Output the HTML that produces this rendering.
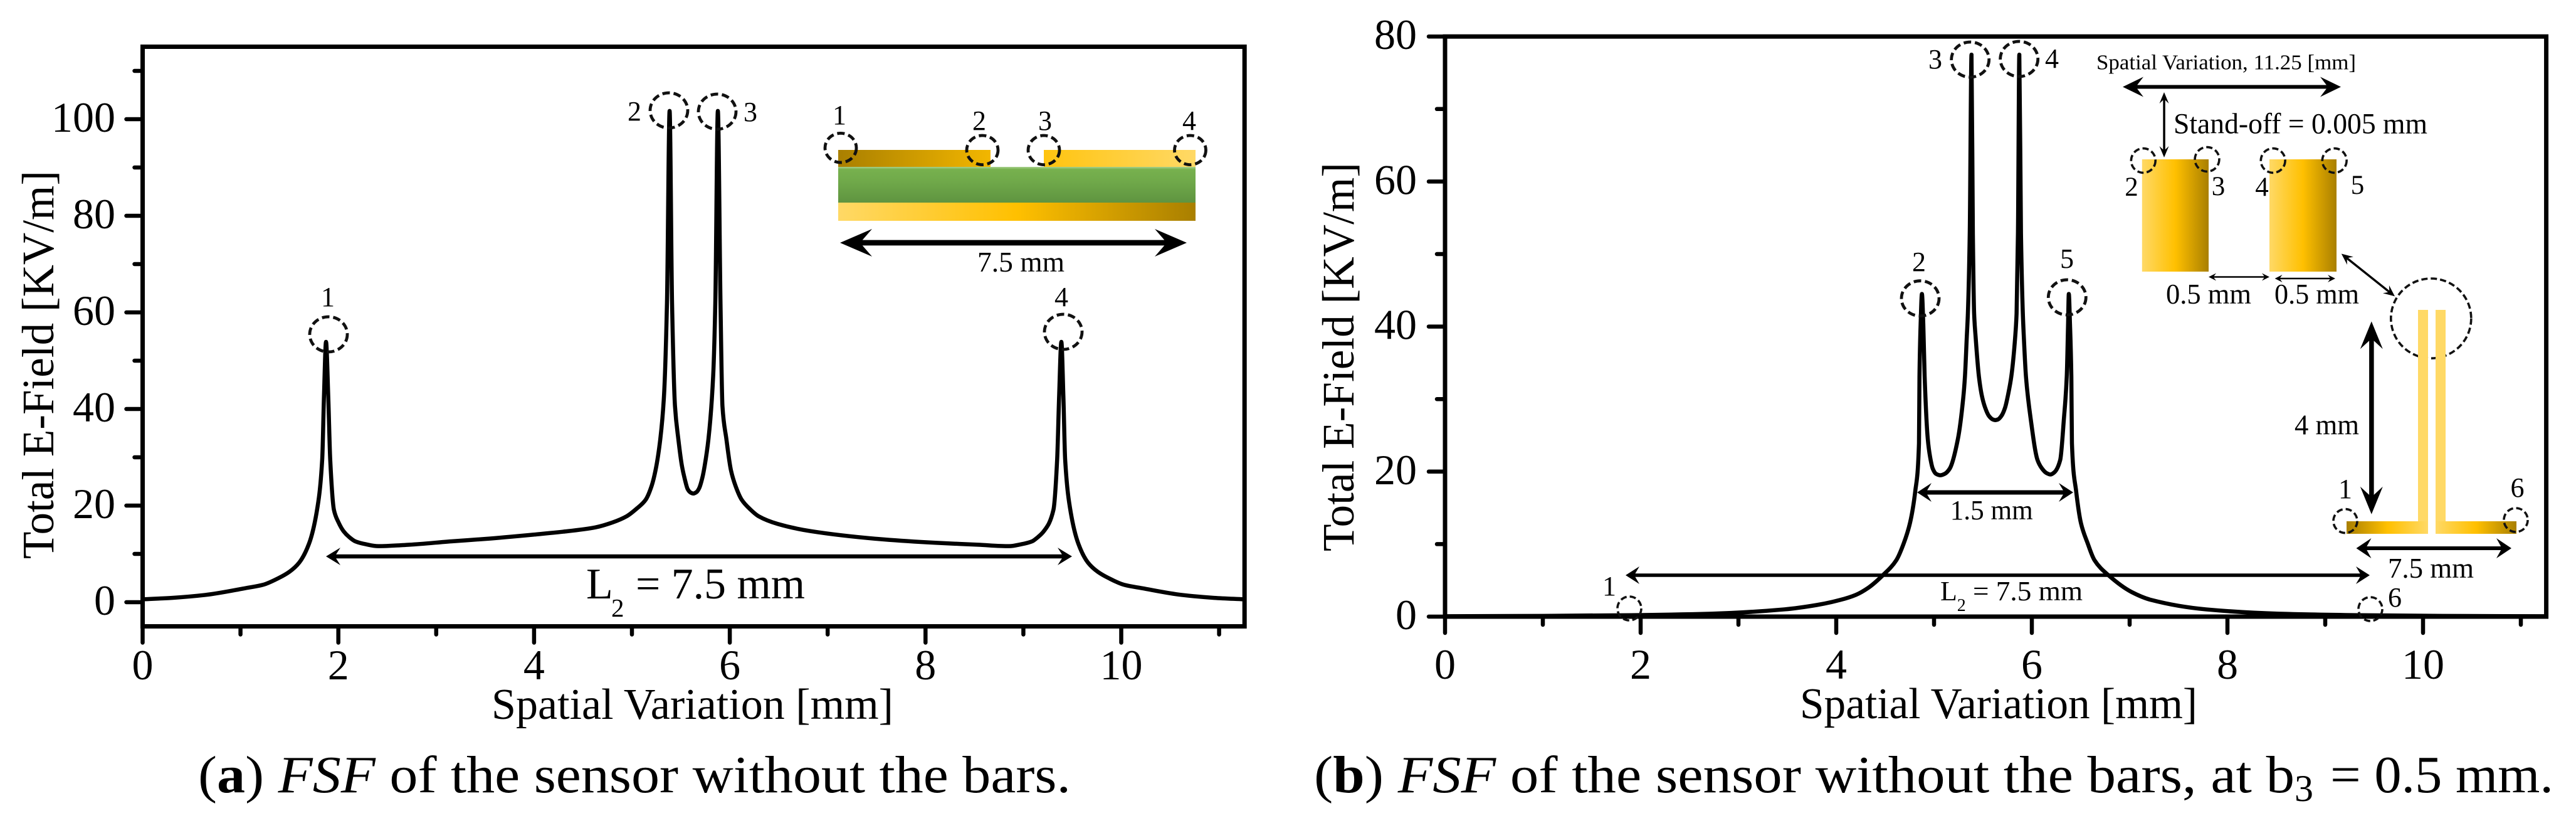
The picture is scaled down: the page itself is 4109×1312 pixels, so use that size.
<!DOCTYPE html>
<html lang="en">
<head>
<meta charset="utf-8">
<title>FSF of the sensor without the bars</title>
<style>
html,body{margin:0;padding:0;background:#fff;}
svg{display:block;}
text{font-family:"Liberation Serif",serif;fill:#000;}
.dash{fill:none;stroke:#111;stroke-width:4.8;stroke-dasharray:12 6;}
.dash-thin{fill:none;stroke:#111;stroke-width:3.6;stroke-dasharray:10 5;}
</style>
</head>
<body>
<svg id="figure" xmlns="http://www.w3.org/2000/svg" width="4109" height="1312" viewBox="0 0 4109 1312">
<defs>
<linearGradient id="goldLR"><stop offset="0" stop-color="#ffd966"/><stop offset="0.5" stop-color="#ffc000"/><stop offset="1" stop-color="#a97f00"/></linearGradient>
<linearGradient id="goldRL"><stop offset="0" stop-color="#a97f00"/><stop offset="0.5" stop-color="#ffc000"/><stop offset="1" stop-color="#ffd966"/></linearGradient>
<linearGradient id="goldTop" gradientUnits="userSpaceOnUse" x1="1337" y1="0" x2="1907" y2="0"><stop offset="0" stop-color="#a97f00"/><stop offset="0.5" stop-color="#ffc000"/><stop offset="1" stop-color="#ffd966"/></linearGradient>
<linearGradient id="green" x1="0" y1="0" x2="0" y2="1"><stop offset="0" stop-color="#a9d18e"/><stop offset="0.07" stop-color="#77b14e"/><stop offset="0.4" stop-color="#70a94a"/><stop offset="1" stop-color="#5f9440"/></linearGradient>
</defs>
<rect x="0" y="0" width="4109" height="1312" fill="#fff"/>

<g id="chart-a"></g>
<g id="chart-b"></g>

<!-- Panel (a) titles and annotations -->
<text x="784" y="1146" font-size="70" textLength="641" lengthAdjust="spacingAndGlyphs">Spatial Variation [mm]</text>
<text transform="translate(85 891) rotate(-90)" font-size="72" textLength="619" lengthAdjust="spacingAndGlyphs">Total E-Field [KV/m]</text>
<text x="523" y="488" font-size="44" text-anchor="middle">1</text>
<text x="1012" y="192" font-size="44" text-anchor="middle">2</text>
<text x="1197" y="193" font-size="44" text-anchor="middle">3</text>
<text x="1693" y="488" font-size="44" text-anchor="middle">4</text>
<ellipse class="dash" cx="524" cy="533" rx="30" ry="28"/>
<ellipse class="dash" cx="1067" cy="176" rx="30" ry="28"/>
<ellipse class="dash" cx="1144" cy="178" rx="30" ry="28"/>
<ellipse class="dash" cx="1696" cy="529" rx="30" ry="28"/>
<text x="935" y="954" font-size="70">L</text>
<text x="975" y="983" font-size="41">2</text>
<text x="1014" y="954" font-size="70" textLength="270" lengthAdjust="spacingAndGlyphs">= 7.5 mm</text>

<!-- Panel (a) inset -->
<g>
<rect x="1337" y="239" width="243" height="28" fill="url(#goldTop)"/>
<rect x="1665" y="239" width="242" height="28" fill="url(#goldTop)"/>
<rect x="1337" y="266" width="570" height="57" fill="url(#green)"/>
<rect x="1337" y="323" width="570" height="29" fill="url(#goldLR)"/>
<ellipse class="dash" cx="1341" cy="235.7" rx="25" ry="23.3"/>
<ellipse class="dash" cx="1567" cy="239.3" rx="25" ry="23.3"/>
<ellipse class="dash" cx="1665" cy="239.3" rx="25" ry="23.3"/>
<ellipse class="dash" cx="1898.5" cy="239.3" rx="25" ry="23.3"/>
<text x="1339" y="198" font-size="44" text-anchor="middle">1</text>
<text x="1562" y="207" font-size="44" text-anchor="middle">2</text>
<text x="1667" y="207" font-size="44" text-anchor="middle">3</text>
<text x="1897" y="207" font-size="44" text-anchor="middle">4</text>
<text x="1559" y="433" font-size="46" textLength="139" lengthAdjust="spacingAndGlyphs">7.5 mm</text>
</g>

<!-- Panel (b) titles and annotations -->
<text x="2871" y="1145" font-size="70" textLength="634" lengthAdjust="spacingAndGlyphs">Spatial Variation [mm]</text>
<text transform="translate(2159 879) rotate(-90)" font-size="72" textLength="620" lengthAdjust="spacingAndGlyphs">Total E-Field [KV/m]</text>
<text x="2567" y="949" font-size="44" text-anchor="middle">1</text>
<text x="3061" y="432" font-size="44" text-anchor="middle">2</text>
<text x="3087" y="109" font-size="44" text-anchor="middle">3</text>
<text x="3273" y="108" font-size="44" text-anchor="middle">4</text>
<text x="3297" y="427" font-size="44" text-anchor="middle">5</text>
<text x="3820" y="967" font-size="44" text-anchor="middle">6</text>
<ellipse class="dash-thin" cx="2599" cy="970" rx="19" ry="19"/>
<ellipse class="dash" cx="3063" cy="475.7" rx="30" ry="28"/>
<ellipse class="dash" cx="3142.7" cy="95" rx="30" ry="28"/>
<ellipse class="dash" cx="3220.7" cy="94" rx="30" ry="28"/>
<ellipse class="dash" cx="3297.3" cy="474" rx="30" ry="28"/>
<ellipse class="dash-thin" cx="3781" cy="971" rx="19" ry="19"/>
<text x="3110.7" y="828" font-size="44" textLength="132" lengthAdjust="spacingAndGlyphs">1.5 mm</text>
<text x="3095" y="957" font-size="44">L</text>
<text x="3121.7" y="974" font-size="28">2</text>
<text x="3147" y="957" font-size="44" textLength="175" lengthAdjust="spacingAndGlyphs">= 7.5 mm</text>

<!-- Panel (b) inset -->
<g>
<text x="3344" y="110.6" font-size="34" textLength="414" lengthAdjust="spacingAndGlyphs">Spatial Variation, 11.25 [mm]</text>
<text x="3467" y="212.4" font-size="47" textLength="405" lengthAdjust="spacingAndGlyphs">Stand-off = 0.005 mm</text>
<rect x="3416.8" y="254" width="106.2" height="179" fill="url(#goldLR)"/>
<rect x="3620" y="254" width="107" height="179" fill="url(#goldLR)"/>
<ellipse class="dash-thin" cx="3418.8" cy="256" rx="19.4" ry="19.4"/>
<ellipse class="dash-thin" cx="3520.5" cy="254" rx="19.4" ry="19.4"/>
<ellipse class="dash-thin" cx="3625.7" cy="256" rx="19.4" ry="19.4"/>
<ellipse class="dash-thin" cx="3723.7" cy="256" rx="19.4" ry="19.4"/>
<text x="3400" y="312" font-size="43" text-anchor="middle">2</text>
<text x="3538.5" y="311" font-size="43" text-anchor="middle">3</text>
<text x="3608" y="312" font-size="43" text-anchor="middle">4</text>
<text x="3760.5" y="309" font-size="43" text-anchor="middle">5</text>
<text x="3455" y="484" font-size="45" textLength="136" lengthAdjust="spacingAndGlyphs">0.5 mm</text>
<text x="3628" y="484" font-size="45" textLength="135" lengthAdjust="spacingAndGlyphs">0.5 mm</text>
<ellipse class="dash-thin" cx="3877.8" cy="507.6" rx="64" ry="63.6"/>
<rect x="3857" y="494" width="16" height="357" fill="#ffd966"/>
<rect x="3885" y="494" width="16" height="357" fill="#ffd966"/>
<rect x="3743" y="831" width="130" height="20" fill="url(#goldRL)"/>
<rect x="3885" y="831" width="129" height="20" fill="url(#goldLR)"/>
<text x="3660" y="692.4" font-size="46" textLength="103" lengthAdjust="spacingAndGlyphs">4 mm</text>
<text x="3741" y="794" font-size="44" text-anchor="middle">1</text>
<text x="4015.5" y="792" font-size="44" text-anchor="middle">6</text>
<ellipse class="dash-thin" cx="3741" cy="830.6" rx="19" ry="19"/>
<ellipse class="dash-thin" cx="4013" cy="829" rx="19" ry="19"/>
<text x="3809" y="921" font-size="46" textLength="137" lengthAdjust="spacingAndGlyphs">7.5 mm</text>
</g>

<g id="arrows"></g>

<!-- Captions -->
<text x="316" y="1263" font-size="84" textLength="1392" lengthAdjust="spacingAndGlyphs">(<tspan font-weight="bold">a</tspan>) <tspan font-style="italic">FSF</tspan> of the sensor without the bars.</text>
<text x="2096" y="1263" font-size="84" textLength="1564" lengthAdjust="spacingAndGlyphs">(<tspan font-weight="bold">b</tspan>) <tspan font-style="italic">FSF</tspan> of the sensor without the bars, at b</text>
<text x="3660" y="1277" font-size="60">3</text>
<text x="3717" y="1263" font-size="84" textLength="356" lengthAdjust="spacingAndGlyphs">= 0.5 mm.</text>
</svg>

<script>
// Panel (a) data
const posA = [0,0.3,0.64,1.05,1.23,1.39,1.50,1.60,1.70,1.778,1.835,1.853,1.874,1.897,1.917,1.955,2.0,2.053,2.11,2.173,2.28,2.406,2.726,3.155,3.5,4.0,4.3,4.628,4.80,4.947,5.05,5.14,5.20,5.241,5.29,5.327,5.358,5.385,5.41,5.44,5.474,5.511,5.54,5.57,5.60,5.628,5.66,5.687,5.72,5.743,5.782,5.83,5.852,5.878,5.905,5.925,5.965,6.012,6.06,6.122,6.21,6.294,6.49,6.83,7.57,8.1,8.536,8.856,8.98,9.089,9.15,9.209,9.307,9.345,9.365,9.388,9.409,9.427,9.484,9.562,9.66,9.76,9.87,10.029,10.212,10.62,10.95,11.25];
const fieldA = [0.6,0.9,1.5,2.9,3.6,5.0,6.3,8.2,12.1,18.6,29.5,42.5,53.9,42.5,29.5,19.1,16.6,14.7,13.5,12.6,12.0,11.6,11.9,12.6,13.1,14.0,14.6,15.5,16.5,17.8,19.4,21.2,24.0,27.3,33.8,42.5,61.9,101.7,61.9,40.6,33.8,28.2,25.5,23.4,22.7,22.5,22.8,23.6,25.8,28.2,33.8,46.8,61.9,101.7,61.9,40.6,33.8,27.3,24.0,21.2,19.2,17.8,16.2,14.7,13.0,12.3,11.9,11.6,12.0,12.6,13.5,14.7,19.1,29.5,42.5,53.9,42.5,29.5,18.6,12.1,8.2,6.3,5.0,3.6,2.9,1.5,0.9,0.6];
const xTicksA = [0,2,4,6,8,10];
const xMinorA = [1,3,5,7,9,11];
const yTicksA = [0,20,40,60,80,100];
const yMinorA = [10,30,50,70,90,110];
const xLabelsA = ["0","2","4","6","8","10"];
const yLabelsA = ["0","20","40","60","80","100"];

// Panel (b) data
const posB = [0,1.0,1.9,2.72,3.47,3.8,4.04,4.2,4.33,4.476,4.615,4.69,4.754,4.808,4.846,4.851,4.863,4.876,4.89,4.904,4.936,4.96,4.987,5.02,5.064,5.11,5.16,5.244,5.299,5.316,5.335,5.346,5.365,5.383,5.397,5.41,5.425,5.459,5.49,5.523,5.56,5.60,5.626,5.655,5.69,5.726,5.76,5.79,5.83,5.844,5.858,5.872,5.889,5.908,5.918,5.94,5.988,6.058,6.10,6.15,6.19,6.23,6.29,6.328,6.357,6.37,6.378,6.39,6.404,6.41,6.453,6.502,6.571,6.64,6.784,7.019,7.22,7.78,8.53,9.35,10.2,11.25];
const fieldB = [0.05,0.1,0.2,0.4,1.0,1.6,2.3,3.0,4.0,5.7,7.8,10.1,12.9,17.3,23.9,33.1,40.4,44.5,40.4,33.1,24.5,22.0,20.4,19.7,19.5,19.7,20.4,24.5,30.2,33.1,38.6,41.8,52.8,77.5,52.8,41.8,38.6,33.1,30.4,28.8,27.7,27.2,27.1,27.2,27.7,28.8,30.8,33.1,38.6,41.8,52.8,77.5,52.8,41.8,38.6,33.1,27.3,21.6,20.5,19.8,19.6,19.9,21.6,27.3,33.1,40.0,44.5,40.4,33.1,23.9,17.3,12.9,10.1,7.8,5.7,3.4,2.3,1.0,0.4,0.2,0.1,0.05];
const xTicksB = [0,2,4,6,8,10];
const xMinorB = [1,3,5,7,9,11];
const yTicksB = [0,20,40,60,80];
const yMinorB = [10,30,50,70];
const xLabelsB = ["0","2","4","6","8","10"];
const yLabelsB = ["0","20","40","60","80"];

const NS = 'http://www.w3.org/2000/svg';
function make(tag, attrs, parent) {
  const el = document.createElementNS(NS, tag);
  for (const k in attrs) el.setAttribute(k, attrs[k]);
  parent.appendChild(el);
  return el;
}

// Monotone cubic path through the data points so the curve has no polygon kinks.
function curvePath(px, py) {
  const n = px.length, dx = [], m = [], t = [];
  for (let i = 0; i < n - 1; i++) { dx[i] = px[i + 1] - px[i]; m[i] = (py[i + 1] - py[i]) / dx[i]; }
  t[0] = m[0]; t[n - 1] = m[n - 2];
  for (let i = 1; i < n - 1; i++) {
    if (m[i - 1] * m[i] <= 0) { t[i] = 0; continue; }
    const w1 = 2 * dx[i] + dx[i - 1], w2 = dx[i] + 2 * dx[i - 1];
    t[i] = (w1 + w2) / (w1 / m[i - 1] + w2 / m[i]);
  }
  let d = 'M' + px[0].toFixed(1) + ' ' + py[0].toFixed(1);
  for (let i = 0; i < n - 1; i++) {
    const h = dx[i] / 3;
    d += ' C' + (px[i] + h).toFixed(2) + ' ' + (py[i] + t[i] * h).toFixed(2) + ' ' +
         (px[i + 1] - h).toFixed(2) + ' ' + (py[i + 1] - t[i + 1] * h).toFixed(2) + ' ' +
         px[i + 1].toFixed(2) + ' ' + py[i + 1].toFixed(2);
  }
  return d;
}

function drawChart(host, cfg, pos, field, xTicks, xMinor, yTicks, yMinor, xLabels, yLabels) {
  const sx = v => cfg.x0 + cfg.xs * v;
  const sy = v => cfg.y0 - cfg.ys * v;
  const left = sx(0), right = sx(cfg.xMax), top = sy(cfg.yMax), bottom = sy(cfg.yMin);

  xMinor.forEach(v => {
    const el = make('line', {x1: sx(v), x2: sx(v), y1: bottom, y2: bottom + 13, stroke: '#000', 'stroke-width': 6.5, 'stroke-linecap': 'round'}, host);
    
    
  });
  xTicks.forEach((v, i) => {
    const el = make('line', {x1: sx(v), x2: sx(v), y1: bottom, y2: bottom + 26, stroke: '#000', 'stroke-width': 6.5, 'stroke-linecap': 'round'}, host);
    
    
    const t = make('text', {x: sx(v), y: cfg.xLabelY, 'font-size': 68, 'text-anchor': 'middle'}, host);
    t.textContent = xLabels[i];
    
    
  });
  yMinor.forEach(v => {
    const el = make('line', {x1: left - 13, x2: left, y1: sy(v), y2: sy(v), stroke: '#000', 'stroke-width': 6.5, 'stroke-linecap': 'round'}, host);
    
    
  });
  yTicks.forEach((v, i) => {
    const el = make('line', {x1: left - 26, x2: left, y1: sy(v), y2: sy(v), stroke: '#000', 'stroke-width': 6.5, 'stroke-linecap': 'round'}, host);
    
    
    const t = make('text', {x: cfg.yLabelX, y: sy(v) + 20, 'font-size': 68, 'text-anchor': 'end'}, host);
    t.textContent = yLabels[i];
    
    
  });

  const curve = make('path', {d: curvePath(pos.map(sx), field.map(sy)), fill: 'none', stroke: '#000', 'stroke-width': 6.5, 'stroke-linejoin': 'round', 'stroke-linecap': 'round'}, host);
  
  

  const frame = make('rect', {x: left, y: top, width: right - left, height: bottom - top, fill: 'none', stroke: '#000', 'stroke-width': 7}, host);
  
  
}

drawChart(document.getElementById('chart-a'),
  {x0: 227.5, xs: 156.1, xMax: 11.26, y0: 960, ys: 7.7, yMin: -5, yMax: 115, xLabelY: 1083, yLabelX: 184},
  posA, fieldA, xTicksA, xMinorA, yTicksA, yMinorA, xLabelsA, yLabelsA);
drawChart(document.getElementById('chart-b'),
  {x0: 2305, xs: 156, xMax: 11.26, y0: 983, ys: 11.56, yMin: 0, yMax: 80, xLabelY: 1082, yLabelX: 2260},
  posB, fieldB, xTicksB, xMinorB, yTicksB, yMinorB, xLabelsB, yLabelsB);

function arrow(name, x1, y1, x2, y2, thick, headLen, headHalf) {
  const L = Math.hypot(x2 - x1, y2 - y1), ux = (x2 - x1) / L, uy = (y2 - y1) / L, nx = -uy, ny = ux;
  const notch = headLen * 0.7, h = thick / 2;
  const pt = (a, b) => (x1 + ux * a + nx * b).toFixed(1) + ',' + (y1 + uy * a + ny * b).toFixed(1);
  const pts = [pt(0, 0), pt(headLen, headHalf), pt(notch, h), pt(L - notch, h), pt(L - headLen, headHalf), pt(L, 0),
               pt(L - headLen, -headHalf), pt(L - notch, -h), pt(notch, -h), pt(headLen, -headHalf)].join(' ');
  const el = make('polygon', {points: pts, fill: '#000'}, document.getElementById('arrows'));
  
  
}
arrow('l2-arrow-a', 520, 887, 1710, 887, 6.5, 23, 14);
arrow('inset-width-arrow', 1340, 387, 1893, 387, 8.7, 51, 22);
arrow('gap-arrow-b', 3058, 785, 3307, 785, 7, 23, 15);
arrow('l2-arrow-b', 2593, 917, 3780, 917, 5.5, 22, 14);
arrow('inset-span-arrow', 3386, 138.5, 3734, 138.5, 6, 33, 16);
arrow('stand-off-arrow', 3452, 147, 3452, 251, 3.5, 18, 7.5);
arrow('tip-gap-arrow', 3523, 441.5, 3620, 441.5, 2.6, 12, 6);
arrow('tip-width-arrow', 3628.6, 444, 3725, 444, 2.6, 12, 6);
arrow('zoom-link-arrow', 3734.8, 404.5, 3820, 472.4, 3.5, 18, 8);
arrow('height-arrow', 3782.8, 512.4, 3782.8, 819.7, 7.5, 44, 18);
arrow('base-width-arrow', 3758.5, 874, 4006, 874, 6, 24, 16);
</script>
</body>
</html>
